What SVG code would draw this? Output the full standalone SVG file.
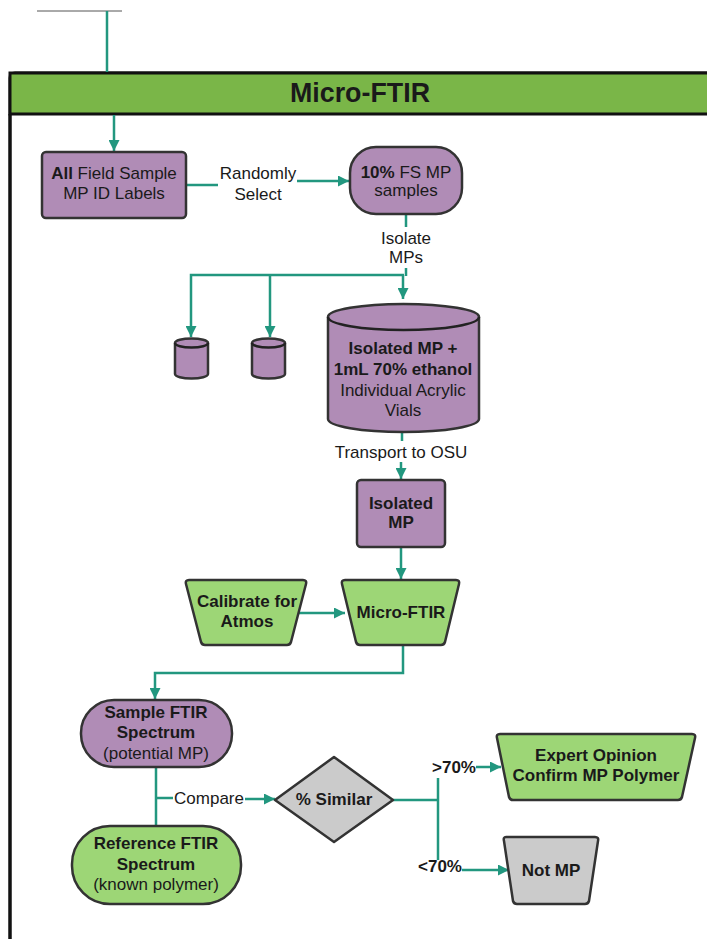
<svg xmlns="http://www.w3.org/2000/svg" width="707" height="939" viewBox="0 0 707 939">
<style>
.c{fill:none;stroke:#22977f;stroke-width:2.5}
.p{fill:#b08cb6;stroke:#333;stroke-width:2.5}
.g{fill:#9dd676;stroke:#333;stroke-width:2.5}
.y{fill:#cbcbcb;stroke:#333;stroke-width:2.5}
text{font-family:"Liberation Sans",Arial,sans-serif;font-size:17px;fill:#1a1a1a;text-anchor:middle;dominant-baseline:central}
.b{font-weight:bold}
</style>
<defs>
<marker id="a" viewBox="0 0 10 10" refX="10" refY="5" markerWidth="4.4" markerHeight="4.4" orient="auto" markerUnits="strokeWidth">
<path d="M0,0 L10,5 L0,10 Z" fill="#22977f"/>
</marker>
</defs>
<rect width="707" height="939" fill="#fff"/>
<g id="container">
<path d="M10,939 V78 Q10,73 15,73 H710" fill="none" stroke="#111" stroke-width="3"/>
<rect x="10" y="73" width="700" height="41" fill="#7ab648" stroke="#111" stroke-width="3"/>
<line x1="10" y1="114" x2="10" y2="939" stroke="#111" stroke-width="3"/>
<text x="360" y="92" class="b" style="font-size:28px" textLength="140" lengthAdjust="spacingAndGlyphs">Micro-FTIR</text>
</g>
<g id="connectors">
<line x1="37" y1="11" x2="122" y2="11" stroke="#555" stroke-width="1"/>
<line x1="107" y1="11" x2="107" y2="72" class="c" stroke-width="2"/>
<line x1="114" y1="115" x2="114" y2="151" class="c" marker-end="url(#a)"/>
<line x1="186" y1="185" x2="218" y2="185" class="c"/>
<line x1="297" y1="181" x2="349" y2="181" class="c" marker-end="url(#a)"/>
<line x1="406" y1="214" x2="406" y2="227" class="c"/>
<line x1="406" y1="268" x2="406" y2="276" class="c"/>
<polyline points="404,275 191,275 191,337" class="c" marker-end="url(#a)"/>
<line x1="270" y1="275" x2="270" y2="337" class="c" marker-end="url(#a)"/>
<line x1="403" y1="275" x2="403" y2="299" class="c" marker-end="url(#a)"/>
<line x1="402" y1="432" x2="402" y2="441" class="c"/>
<line x1="401" y1="462" x2="401" y2="479" class="c" marker-end="url(#a)"/>
<line x1="401" y1="548" x2="401" y2="579" class="c" marker-end="url(#a)"/>
<line x1="299" y1="613" x2="345" y2="613" class="c" marker-end="url(#a)"/>
<polyline points="403,646 403,673 155,673 155,699" class="c" marker-end="url(#a)"/>
<line x1="156" y1="768" x2="156" y2="826" class="c"/>
<line x1="156" y1="798" x2="173" y2="798" class="c"/>
<line x1="245" y1="799" x2="275" y2="799" class="c" marker-end="url(#a)"/>
<line x1="393" y1="800" x2="438" y2="800" class="c"/>
<line x1="438" y1="778" x2="438" y2="860" class="c"/>
<line x1="476" y1="767" x2="501" y2="767" class="c" marker-end="url(#a)"/>
<line x1="462" y1="870" x2="509" y2="870" class="c" marker-end="url(#a)"/>
<text x="258" y="173">Randomly</text>
<text x="258" y="194">Select</text>
<text x="406" y="238">Isolate</text>
<text x="406" y="257">MPs</text>
<text x="401" y="452">Transport to OSU</text>
<text x="209" y="798">Compare</text>
<text x="454" y="767" class="b">&gt;70%</text>
<text x="440" y="866" class="b">&lt;70%</text>
</g>
<g id="allField">
<rect x="42" y="152" width="144" height="66" rx="4" class="p"/>
<text x="114" y="173"><tspan class="b">All</tspan> Field Sample</text>
<text x="114" y="193">MP ID Labels</text>
</g>
<g id="tenPercent">
<rect x="350" y="147" width="112" height="67" rx="26" class="p"/>
<text x="406" y="172"><tspan class="b">10%</tspan> FS MP</text>
<text x="406" y="190">samples</text>
</g>
<g id="vial1">
<path d="M175,343 V374 A16.5,4.5 0 0 0 208,374 V343 A16.5,4.5 0 0 0 175,343 Z" class="p"/>
<path d="M175,343 A16.5,4.5 0 0 0 208,343" fill="none" stroke="#222" stroke-width="2.5"/>
</g>
<g id="vial2">
<path d="M252,343 V374 A16.5,4.5 0 0 0 285,374 V343 A16.5,4.5 0 0 0 252,343 Z" class="p"/>
<path d="M252,343 A16.5,4.5 0 0 0 285,343" fill="none" stroke="#222" stroke-width="2.5"/>
</g>
<g id="cylinder">
<path d="M328,317 V419 A75.5,13 0 0 0 479,419 V317 A75.5,13 0 0 0 328,317 Z" class="p"/>
<path d="M328,317 A75.5,13 0 0 0 479,317" fill="none" stroke="#222" stroke-width="2.5"/>
<text x="403" y="348" class="b">Isolated MP +</text>
<text x="403" y="369" class="b">1mL 70% ethanol</text>
<text x="403" y="390">Individual Acrylic</text>
<text x="403" y="410">Vials</text>
</g>
<g id="isolatedMP">
<rect x="357" y="480" width="88" height="67" rx="4" class="p"/>
<text x="401" y="503" class="b">Isolated</text>
<text x="401" y="522" class="b">MP</text>
</g>
<g id="calibrate">
<path d="M189,580 H303 Q307,580 306,584 L291,642 Q290,645 287,645 H205 Q202,645 201,642 L186,584 Q185,580 189,580 Z" class="g"/>
<text x="247" y="601" class="b">Calibrate for</text>
<text x="247" y="621" class="b">Atmos</text>
</g>
<g id="microFTIR">
<path d="M345,580 H456 Q460,580 459,584 L445,642 Q444,645 441,645 H360 Q357,645 356,642 L342,584 Q341,580 345,580 Z" class="g"/>
<text x="401" y="612" class="b">Micro-FTIR</text>
</g>
<g id="sampleSpectrum">
<rect x="81" y="700" width="151" height="67" rx="33" class="p"/>
<text x="156" y="712" class="b">Sample FTIR</text>
<text x="156" y="732" class="b">Spectrum</text>
<text x="156" y="753">(potential MP)</text>
</g>
<g id="referenceSpectrum">
<rect x="72" y="826" width="169" height="78" rx="38" class="g"/>
<text x="156" y="843" class="b">Reference FTIR</text>
<text x="156" y="864" class="b">Spectrum</text>
<text x="156" y="884">(known polymer)</text>
</g>
<g id="similar">
<path d="M334,757 L393,800 L334,842 L275,800 Z" class="y" stroke-linejoin="round"/>
<text x="334" y="799" class="b">% Similar</text>
</g>
<g id="expert">
<path d="M500,734 H692 Q696,734 695,738 L682,797 Q681,800 678,800 H513 Q510,800 509,797 L497,738 Q496,734 500,734 Z" class="g"/>
<text x="596" y="755" class="b">Expert Opinion</text>
<text x="596" y="775" class="b">Confirm MP Polymer</text>
</g>
<g id="notMP">
<path d="M506,837 H595 Q599,837 598,841 L589,901 Q588,904 585,904 H517 Q514,904 513,901 L504,841 Q503,837 506,837 Z" class="y"/>
<text x="551" y="870" class="b">Not MP</text>
</g>
</svg>
